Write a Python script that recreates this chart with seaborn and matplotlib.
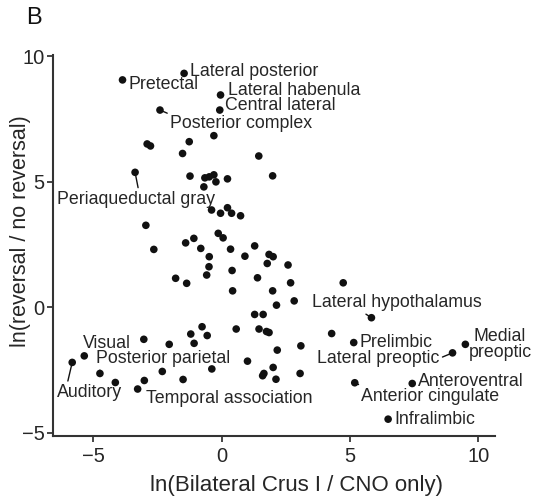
import matplotlib
matplotlib.use("Agg")
import matplotlib.pyplot as plt
import seaborn as sns
import pandas as pd

# ---- data ----
labeled_names = ["Pretectal", "Lateral posterior", "Lateral habenula", "Central lateral",
                 "Posterior complex", "Periaqueductal gray", "Visual", "Auditory",
                 "Posterior parietal", "Temporal association", "Lateral hypothalamus",
                 "Prelimbic", "Medial\npreoptic", "Lateral preoptic", "Anteroventral",
                 "Anterior cingulate", "Infralimbic"]
labeled_x = [-3.86, -1.46, -0.04, -0.07, -2.40, -3.37, -5.35, -5.82, -4.74, -3.27,
             5.84, 5.15, 9.50, 9.00, 7.43, 5.19, 6.49]
labeled_y = [9.06, 9.32, 8.46, 7.86, 7.86, 5.38, -1.93, -2.19, -2.63, -3.25,
             -0.41, -1.40, -1.47, -1.81, -3.03, -3.00, -4.45]

other_x = [-0.30, -2.90, -2.77, -1.26, -1.52, 1.45, -1.23, 1.99,
           -0.65, -0.48, -0.30, -0.22, -0.69, 0.23,
           -0.39, -0.04, 0.23, 0.39, 0.74,
           -2.95, -0.13, 0.06, -1.08, -1.40, -2.64, -0.81, 0.35, 1.29,
           -0.48, 0.91, 1.85, 2.01, 1.78, 2.59, -0.49, 0.41, -0.58, -1.79, -1.36, 1.40,
           2.69, 0.43, 1.99, 2.83, 2.14, 1.29, 1.62, 4.74,
           -0.76, 0.57, 1.46, 1.75, 1.85,
           -1.20, -0.56, 4.29, -3.03, -2.04, -1.07, 3.09, 2.17,
           1.01, -0.38, 2.01, 1.65, 1.60, 2.12, 3.06, -2.31, -4.14, -3.01, -1.50]
other_y = [6.84, 6.51, 6.43, 6.60, 6.13, 6.03, 5.23, 5.24,
           5.16, 5.20, 5.28, 5.00, 4.80, 5.12,
           3.88, 3.75, 3.97, 3.75, 3.65,
           3.27, 2.95, 2.77, 2.75, 2.57, 2.31, 2.35, 2.32, 2.45,
           2.02, 2.04, 2.11, 2.02, 1.75, 1.69, 1.62, 1.47, 1.29, 1.16, 0.96, 1.18,
           0.98, 0.66, 0.66, 0.26, 0.09, -0.28, -0.28, 0.98,
           -0.77, -0.86, -0.86, -0.96, -1.00,
           -1.06, -1.12, -1.04, -1.27, -1.47, -1.43, -1.53, -1.70,
           -2.14, -2.45, -2.39, -2.63, -2.72, -2.86, -2.63, -2.55, -2.99, -2.91, -2.87]

x_ticks = [-5, 0, 5, 10]
y_ticks = [-5, 0, 5, 10]
x_label = "ln(Bilateral Crus I / CNO only)"
y_label = "ln(reversal / no reversal)"

# ---- label layout ----
label_pos = {
    "Pretectal": (-3.64, 8.86, "left", None),
    "Lateral posterior": (-1.23, 9.39, "left", None),
    "Lateral habenula": (0.26, 8.63, "left", None),
    "Central lateral": (0.13, 8.03, "left", None),
    "Posterior complex": (-1.99, 7.34, "left", (0.0, 1.0)),
    "Periaqueductal gray": (-6.43, 4.30, "left", (0.52, 1.0)),
    "Visual": (-5.39, -1.43, "left", None),
    "Auditory": (-6.40, -3.40, "left", (0.15, 1.0)),
    "Posterior parietal": (-4.90, -2.03, "left", (0.03, 0.0)),
    "Temporal association": (-2.95, -3.63, "left", None),
    "Lateral hypothalamus": (3.51, 0.20, "left", (0.29, 0.0)),
    "Prelimbic": (5.39, -1.40, "left", None),
    "Medial\npreoptic": (10.85, -1.48, "center", None),
    "Lateral preoptic": (8.48, -2.03, "right", (1.0, 0.5)),
    "Anteroventral": (7.66, -2.96, "left", None),
    "Anterior cingulate": (5.45, -3.54, "left", (0.03, 1.0)),
    "Infralimbic": (6.72, -4.45, "left", None),
}

df = pd.DataFrame({"x": labeled_x + other_x, "y": labeled_y + other_y})

sns.set_style("white")
plt.rcParams["font.family"] = ["Liberation Sans", "DejaVu Sans"]

fig = plt.figure(figsize=(5.35, 4.96), dpi=100)
ax = fig.add_axes([0.099, 0.121, 0.826, 0.768])

sns.scatterplot(data=df, x="x", y="y", ax=ax, color="#111111", s=30,
                edgecolor="none", linewidth=0, legend=False)

for name, px, py in zip(labeled_names, labeled_x, labeled_y):
    tx, ty, ha, rel = label_pos[name]
    kw = {}
    if rel is not None:
        kw["arrowprops"] = dict(arrowstyle="-", color="#111111", lw=1.0,
                                shrinkA=0, shrinkB=2.5, relpos=rel)
    ax.annotate(name, xy=(px, py), xytext=(tx, ty), textcoords="data",
                ha=ha, va="center", fontsize=12.8, color="#262626",
                multialignment="center", linespacing=0.95,
                annotation_clip=False, **kw)

ax.set_xlim(-6.57, 10.65)
ax.set_ylim(-5.12, 10.05)
ax.set_xticks(x_ticks)
ax.set_yticks(y_ticks)
ax.set_xlabel(x_label, fontsize=16, color="#262626")
ax.set_ylabel(y_label, fontsize=15.5, color="#262626")
ax.xaxis.set_label_coords(0.551, -0.103)
ax.yaxis.set_label_coords(-0.05, 0.537)
ax.tick_params(axis="both", labelsize=14.5, colors="#262626", length=4, width=1.2,
               direction="out", left=True, bottom=True)
ax.tick_params(axis="x", pad=4)
ax.tick_params(axis="y", pad=2)
sns.despine(ax=ax)
for sp in ["left", "bottom"]:
    ax.spines[sp].set_color("#333333")
    ax.spines[sp].set_linewidth(1.5)

fig.text(0.049, 0.985, "B", fontsize=17, color="#111111", ha="left", va="top")

fig.savefig("out.png", dpi=100)
